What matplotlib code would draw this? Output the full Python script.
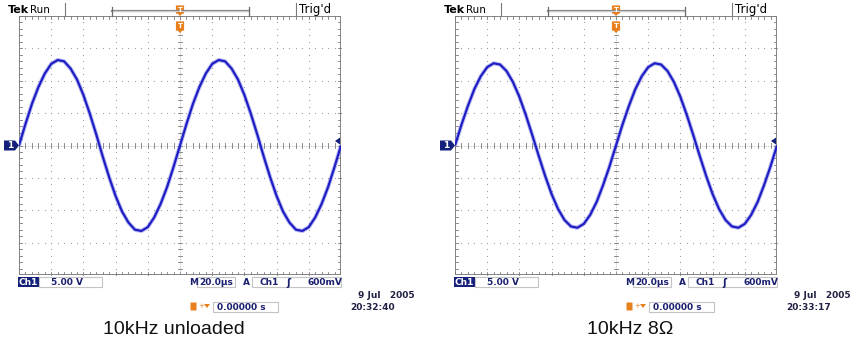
import matplotlib
matplotlib.use("Agg")
import matplotlib.pyplot as plt
from matplotlib.patches import Rectangle, FancyBboxPatch, Polygon

time_us = list(range(0, 201, 4))  # sample times across 10 div x 20 us

volts_unloaded = [
    0.0, 3.3, 6.4, 9.0, 11.1, 12.6, 13.2, 13.0, 11.9, 10.2, 7.8, 4.9, 1.7,
    -1.7, -4.9, -7.8, -10.2, -11.9, -13.0, -13.2, -12.6, -11.1, -9.0, -6.4, -3.3,
    0.0, 3.3, 6.4, 9.0, 11.1, 12.6, 13.2, 13.0, 11.9, 10.2, 7.8, 4.9, 1.7,
    -1.7, -4.9, -7.8, -10.2, -11.9, -13.0, -13.2, -12.6, -11.1, -9.0, -6.4, -3.3,
    0.0,
]
volts_8ohm = [
    0.0, 3.2, 6.1, 8.7, 10.7, 12.1, 12.7, 12.5, 11.5, 9.8, 7.5, 4.7, 1.6,
    -1.6, -4.7, -7.5, -9.8, -11.5, -12.5, -12.7, -12.1, -10.7, -8.7, -6.1, -3.2,
    0.0, 3.2, 6.1, 8.7, 10.7, 12.1, 12.7, 12.5, 11.5, 9.8, 7.5, 4.7, 1.6,
    -1.6, -4.7, -7.5, -9.8, -11.5, -12.5, -12.7, -12.1, -10.7, -8.7, -6.1, -3.2,
    0.0,
]

captions = ["10kHz unloaded", "10kHz 8Ω"]
timestamps = ["20:32:40", "20:33:17"]
date_label = "9 Jul   2005"
ch1_scale = "5.00 V"
timebase = "20.0µs"
trig_level = "600mV"
trig_pos = "0.00000 s"

W, H = 859, 342
C = {
    "trace": "#1e1ec4",
    "fuzz": "#7070e0",
    "grid": "#9a9a9a",
    "border": "#7a7a7a",
    "navy": "#1a1f6e",
    "chbox": "#14207a",
    "orange": "#e8801e",
    "boxedge": "#c4c4c4",
}

fig = plt.figure(figsize=(W / 100, H / 100), dpi=100)
fig.patch.set_facecolor("white")

ov = fig.add_axes([0, 0, 1, 1], zorder=5)
ov.set_xlim(0, W)
ov.set_ylim(H, 0)
ov.axis("off")
ov.patch.set_alpha(0)

GX, GW, GT, GB = [19, 455], 322, 16, 275


def draw_screen(x0, volts, caption, cap_x, stamp):
    pos = [x0 / W, 1 - GB / H, GW / W, (GB - GT) / H]
    scr = fig.add_axes(pos, zorder=1)
    scr.set_xlim(0, 10)
    scr.set_ylim(-4, 4)
    scr.axis("off")

    tx = 3 / 32.2
    ty = 3 / 32.4
    minor_x = [i / 5 for i in range(51)]
    minor_y = [-4 + i / 5 for i in range(41)]

    # dotted graticule
    for i in range(1, 10):
        if i == 5:
            continue
        scr.scatter([i] * len(minor_y), minor_y, s=0.7, color=C["grid"], lw=0)
    for j in range(-3, 4):
        if j == 0:
            continue
        scr.scatter(minor_x, [j] * len(minor_x), s=0.7, color=C["grid"], lw=0)

    # centre crosshair with minor ticks
    scr.plot([0, 10], [0, 0], color=C["grid"], lw=0.5, ls=(0, (1, 1.5)))
    scr.plot([5, 5], [-4, 4], color=C["grid"], lw=0.5, ls=(0, (1, 1.5)))
    for x in minor_x:
        scr.plot([x, x], [-ty * 0.7, ty * 0.7], color=C["border"], lw=0.6)
        scr.plot([x, x], [4, 4 - ty], color=C["border"], lw=0.6)
        scr.plot([x, x], [-4, -4 + ty], color=C["border"], lw=0.6)
    for y in minor_y:
        scr.plot([5 - tx * 0.7, 5 + tx * 0.7], [y, y], color=C["border"], lw=0.6)
        scr.plot([0, tx], [y, y], color=C["border"], lw=0.6)
        scr.plot([10, 10 - tx], [y, y], color=C["border"], lw=0.6)
    scr.add_patch(Rectangle((0, -4), 10, 8, fill=False, ec=C["border"], lw=1.3))

    # waveform in real units
    ax = fig.add_axes(pos, zorder=2)
    ax.set_xlim(0, 200)
    ax.set_ylim(-20, 20)
    ax.axis("off")
    ax.patch.set_alpha(0)
    ax.plot(time_us, volts, color=C["fuzz"], lw=3.0, alpha=0.45, solid_capstyle="butt")
    ax.plot(time_us, volts, color=C["trace"], lw=1.6, solid_capstyle="butt")

    # ---- top status bar ----
    ov.text(x0 - 11, 10, "Tek", fontsize=8, fontweight="bold", va="center", ha="left")
    ov.text(x0 + 11, 10, "Run", fontsize=7.5, va="center", ha="left")
    ov.plot([x0 + 46, x0 + 46], [3, 16], color=C["border"], lw=0.8)
    ov.plot([x0 + 277, x0 + 277], [3, 16], color=C["border"], lw=0.8)
    ov.text(x0 + 280, 10, "Trig'd", fontsize=8.5, va="center", ha="left")
    ov.plot([x0 + 93, x0 + 230], [11, 11], color="#8c8c8c", lw=1.6)
    ov.plot([x0 + 93, x0 + 230], [11, 11], color="#d8d8d8", lw=0.6)
    for bx in (x0 + 93, x0 + 230):
        ov.plot([bx, bx], [7, 16], color="#6a6a6a", lw=0.9)

    cx = x0 + GW / 2
    for ty0, hh in ((6, 10), (22, 11)):
        ov.add_patch(FancyBboxPatch((cx - 3.5, ty0), 7, hh - 3,
                                    boxstyle="round,pad=0.6", fc=C["orange"], ec="none"))
        ov.add_patch(Polygon([[cx - 3, ty0 + hh - 3], [cx + 3, ty0 + hh - 3], [cx, ty0 + hh]],
                             fc=C["orange"], ec="none"))
        ov.text(cx, ty0 + (hh - 3) / 2 + 0.5, "T", fontsize=5, color="white",
                fontweight="bold", ha="center", va="center")

    # channel ground marker and trigger level arrow
    ym = (GT + GB) / 2
    ov.add_patch(Polygon([[x0 - 15, ym - 5], [x0 - 4, ym - 5], [x0, ym],
                          [x0 - 4, ym + 5], [x0 - 15, ym + 5]], fc=C["chbox"], ec="none"))
    ov.text(x0 - 9, ym + 0.5, "1", fontsize=6.5, color="white", fontweight="bold",
            ha="center", va="center")
    ov.add_patch(Polygon([[x0 + GW - 1, ym - 8], [x0 + GW - 1, ym - 1], [x0 + GW - 6, ym - 4.5]],
                         fc=C["chbox"], ec="none"))

    # ---- bottom readouts ----
    ov.add_patch(Rectangle((x0 - 1, 277), 21, 10, fc=C["chbox"], ec="none"))
    ov.text(x0 + 9.5, 282.5, "Ch1", fontsize=6.5, color="white", fontweight="bold",
            ha="center", va="center")
    ov.add_patch(Rectangle((x0 + 20, 277), 63, 10, fc="white", ec=C["boxedge"], lw=0.8))
    ov.text(x0 + 32, 282.5, ch1_scale, fontsize=6.5, color=C["navy"], fontweight="bold",
            va="center")

    ov.text(x0 + 170, 282.5, "M", fontsize=6.5, color=C["navy"], fontweight="bold", va="center")
    ov.add_patch(Rectangle((x0 + 178, 277), 38, 10, fc="white", ec=C["boxedge"], lw=0.8))
    ov.text(x0 + 180, 282.5, timebase, fontsize=6.5, color=C["navy"], fontweight="bold",
            va="center")
    ov.text(x0 + 224, 282.5, "A", fontsize=6.5, color=C["navy"], fontweight="bold", va="center")
    ov.add_patch(Rectangle((x0 + 233, 277), 89, 10, fc="white", ec=C["boxedge"], lw=0.8))
    ov.text(x0 + 241, 282.5, "Ch1", fontsize=6.5, color=C["navy"], fontweight="bold",
            va="center")
    ov.text(x0 + 267, 282.5, "ʃ", fontsize=7, color=C["navy"], fontweight="bold", va="center")
    ov.text(x0 + 288, 282.5, trig_level, fontsize=6.5, color=C["navy"], fontweight="bold",
            va="center")

    ov.add_patch(FancyBboxPatch((x0 + 172, 303), 5, 7, boxstyle="round,pad=0.5",
                                fc=C["orange"], ec="none"))
    ov.text(x0 + 179, 306.5, "+", fontsize=5, color=C["orange"], ha="left", va="center")
    ov.add_patch(Polygon([[x0 + 185, 304], [x0 + 191, 304], [x0 + 188, 308]],
                         fc=C["orange"], ec="none"))
    ov.add_patch(Rectangle((x0 + 194, 302), 65, 10, fc="white", ec=C["boxedge"], lw=0.8))
    ov.text(x0 + 198, 307.5, trig_pos, fontsize=6.5, color=C["navy"], fontweight="bold",
            va="center")

    ov.text(x0 + 396, 296, date_label, fontsize=6.5, color="#222244", fontweight="bold",
            ha="right", va="center")
    ov.text(x0 + 331, 307, stamp, fontsize=6.5, color="#222244", fontweight="bold",
            ha="left", va="center")

    ov.text(cap_x, 329, caption, fontsize=14, family="Liberation Sans",
            ha="center", va="center", color="#111111")


draw_screen(GX[0], volts_unloaded, captions[0], 174, timestamps[0])
draw_screen(GX[1], volts_8ohm, captions[1], 630, timestamps[1])

fig.savefig("out.png", dpi=100, facecolor="white")
